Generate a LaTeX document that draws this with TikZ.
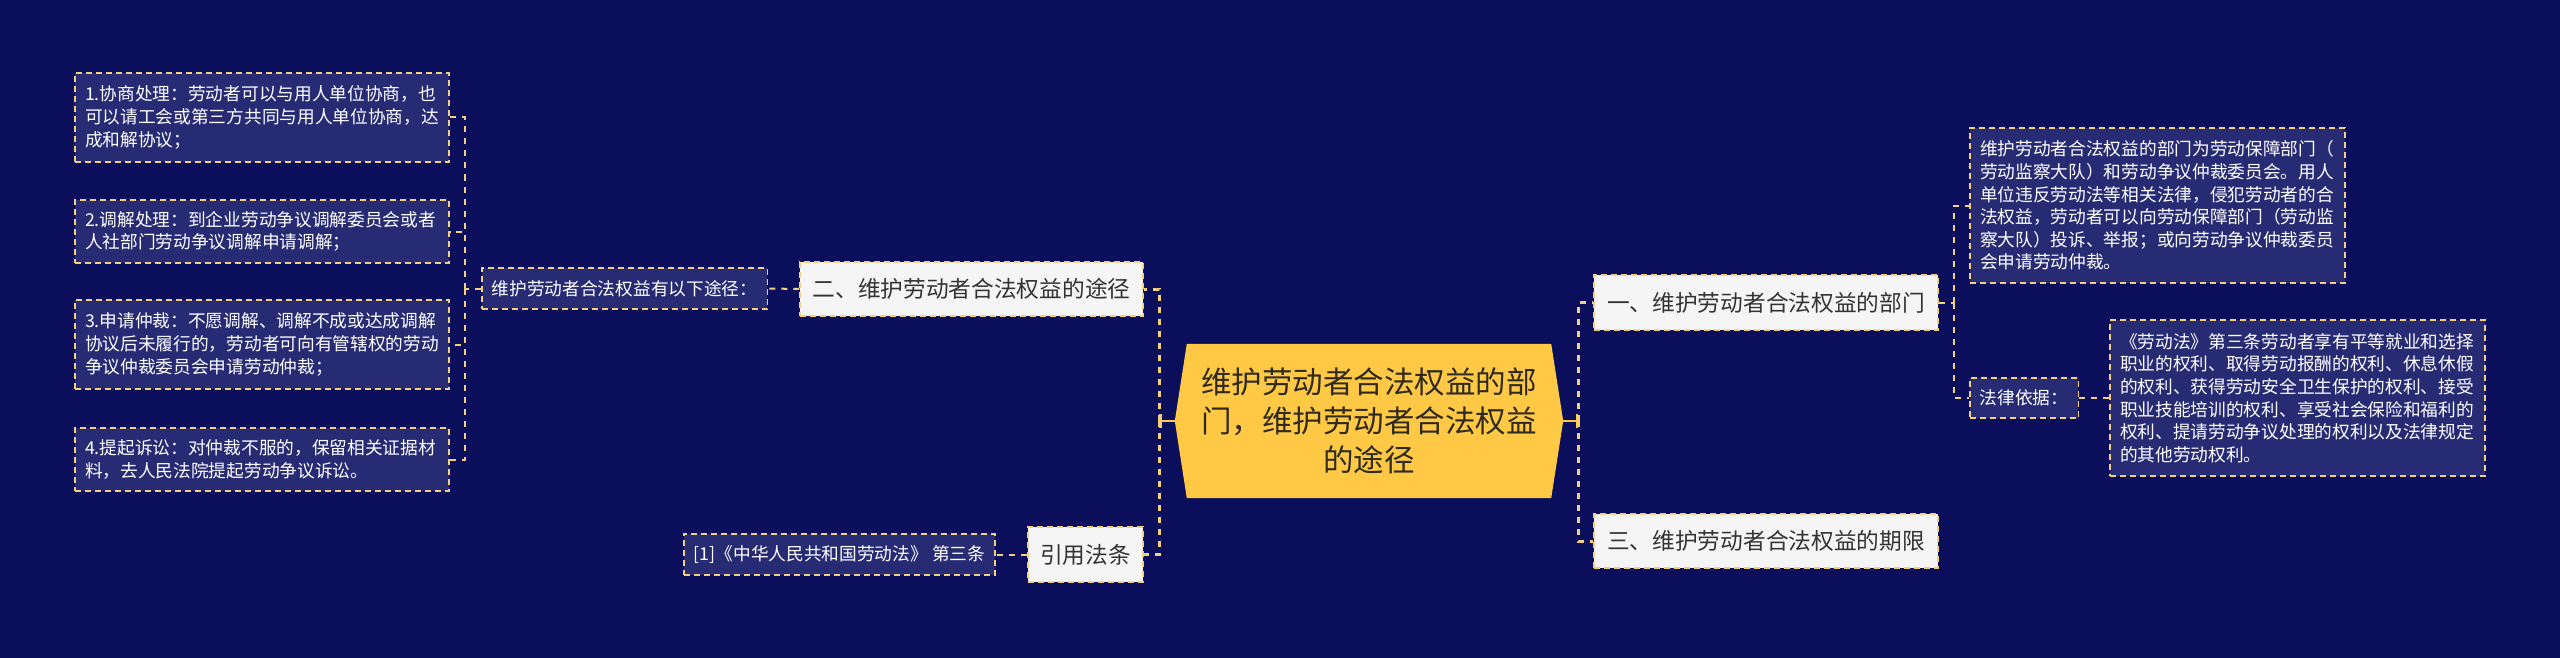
\documentclass[tikz,border=0pt]{standalone}
\usepackage{fontspec}
\setmainfont{Noto Sans CJK SC}
\usetikzlibrary{backgrounds,arrows.meta}
\definecolor{bgc}{HTML}{0B0E5A}
\definecolor{subf}{HTML}{272B74}
\definecolor{lny}{HTML}{F2D080}
\definecolor{gold}{HTML}{FFC845}
\definecolor{wbox}{HTML}{F5F5F5}
\definecolor{dtext}{HTML}{333333}
\definecolor{ctext}{HTML}{2E2A1E}
\tikzset{
  leaf/.style={draw=lny, line width=1.5pt, dash pattern=on 6pt off 4pt, fill=subf, text=white,
    font=\fontsize{17.7}{22.6}\selectfont, inner xsep=10pt, inner ysep=0pt, align=left},
  leafone/.style={leaf, align=center},
  topic/.style={draw=lny, line width=1.5pt, dash pattern=on 6pt off 4pt, fill=wbox, text=dtext,
    font=\fontsize{22.7}{28}\selectfont, inner sep=0pt, align=center},
  link/.style={draw=lny, line width=2pt, dash pattern=on 6pt off 6pt},
  mainlink/.style={draw=lny, line width=3pt, dash pattern=on 6pt off 6pt},
  mainsolid/.style={draw=gold, line width=2.5pt, -{Bar[width=14pt,line width=2.5pt]}},
}
\begin{document}
\begin{tikzpicture}[x=1pt,y=-1pt]
\useasboundingbox (0,0) rectangle (2560,658);
% left leaves
\node[leaf, minimum width=374, minimum height=89, text width=354] (b1) at (262,117.5)
  {1.协商处理：劳动者可以与用人单位协商，也\\可以请工会或第三方共同与用人单位协商，达\\成和解协议；};
\node[leaf, minimum width=374, minimum height=63, text width=354] (b2) at (262,231.5)
  {2.调解处理：到企业劳动争议调解委员会或者\\人社部门劳动争议调解申请调解；};
\node[leaf, minimum width=374, minimum height=89, text width=354] (b3) at (262,344.5)
  {3.申请仲裁：不愿调解、调解不成或达成调解\\协议后未履行的，劳动者可向有管辖权的劳动\\争议仲裁委员会申请劳动仲裁；};
\node[leaf, minimum width=374, minimum height=63, text width=354] (b4) at (262,459.5)
  {4.提起诉讼：对仲裁不服的，保留相关证据材\\料，去人民法院提起劳动争议诉讼。};
\node[leafone, minimum width=285, minimum height=41] (s1) at (624.5,288.5) {维护劳动者合法权益有以下途径：};
\node[leafone, minimum width=311, minimum height=41] (s4) at (839.5,554.5) {[1]《中华人民共和国劳动法》 第三条};
% topics
\node[topic, minimum width=343, minimum height=54] (n2) at (971.5,289) {二、维护劳动者合法权益的途径};
\node[topic, minimum width=115, minimum height=55] (n4) at (1085.5,554.5) {引用法条};
\node[topic, minimum width=344, minimum height=55] (n1) at (1766,302.5) {一、维护劳动者合法权益的部门};
\node[topic, minimum width=344, minimum height=54] (n3) at (1766,541) {三、维护劳动者合法权益的期限};
% right leaves
\node[leaf, minimum width=375, minimum height=155, text width=355] (A) at (2157.5,205.5)
  {维护劳动者合法权益的部门为劳动保障部门（\\劳动监察大队）和劳动争议仲裁委员会。用人\\单位违反劳动法等相关法律，侵犯劳动者的合\\法权益，劳动者可以向劳动保障部门（劳动监\\察大队）投诉、举报；或向劳动争议仲裁委员\\会申请劳动仲裁。};
\node[leafone, minimum width=108, minimum height=40] (L) at (2024,398) {法律依据：};
\node[leaf, minimum width=375, minimum height=156, text width=355] (B) at (2297.5,398)
  {《劳动法》第三条劳动者享有平等就业和选择\\职业的权利、取得劳动报酬的权利、休息休假\\的权利、获得劳动安全卫生保护的权利、接受\\职业技能培训的权利、享受社会保险和福利的\\权利、提请劳动争议处理的权利以及法律规定\\的其他劳动权利。};
% central
\node[minimum width=388, minimum height=154, inner sep=0pt, text=ctext, align=center,
  font=\fontsize{30.5}{39}\selectfont] (C) at (1369,421)
  {维护劳动者合法权益的部\\门，维护劳动者合法权益\\的途径};
\begin{scope}[on background layer]
  \fill[bgc] (0,0) rectangle (2560,658);
  \fill[gold] (C.west) -- ([xshift=12pt]C.north west) -- ([xshift=-12pt]C.north east) -- (C.east)
    -- ([xshift=-12pt]C.south east) -- ([xshift=12pt]C.south west) -- cycle;
\end{scope}
% junctions
\coordinate (kC1) at (1159,421);
\coordinate (kC2) at (1578,421);
\coordinate (kL) at (465,288.5);
\coordinate (kR) at (1954,302.5);
% connectors
\draw[mainsolid] (C.west) -- (kC1);
\draw[mainsolid] (C.east) -- (kC2);
\draw[mainlink] (kC1) |- (n2.east);
\draw[mainlink] (kC1) |- (n4.east);
\draw[mainlink] (kC2) |- (n1.west);
\draw[mainlink] (kC2) |- (n3.west);
\draw[link] (n2.west) -- (s1.east);
\draw[link] (n4.west) -- (s4.east);
\draw[link] (s1.west) -- (kL);
\draw[link] (kL) |- (b1.east);
\draw[link] (kL) |- (b2.east);
\draw[link] (kL) |- (b3.east);
\draw[link] (kL) |- (b4.east);
\draw[link] (n1.east) -- (kR);
\draw[link] (kR) |- (A.west);
\draw[link] (kR) |- (L.west);
\draw[link] (L.east) -- (B.west);
\end{tikzpicture}
\end{document}
